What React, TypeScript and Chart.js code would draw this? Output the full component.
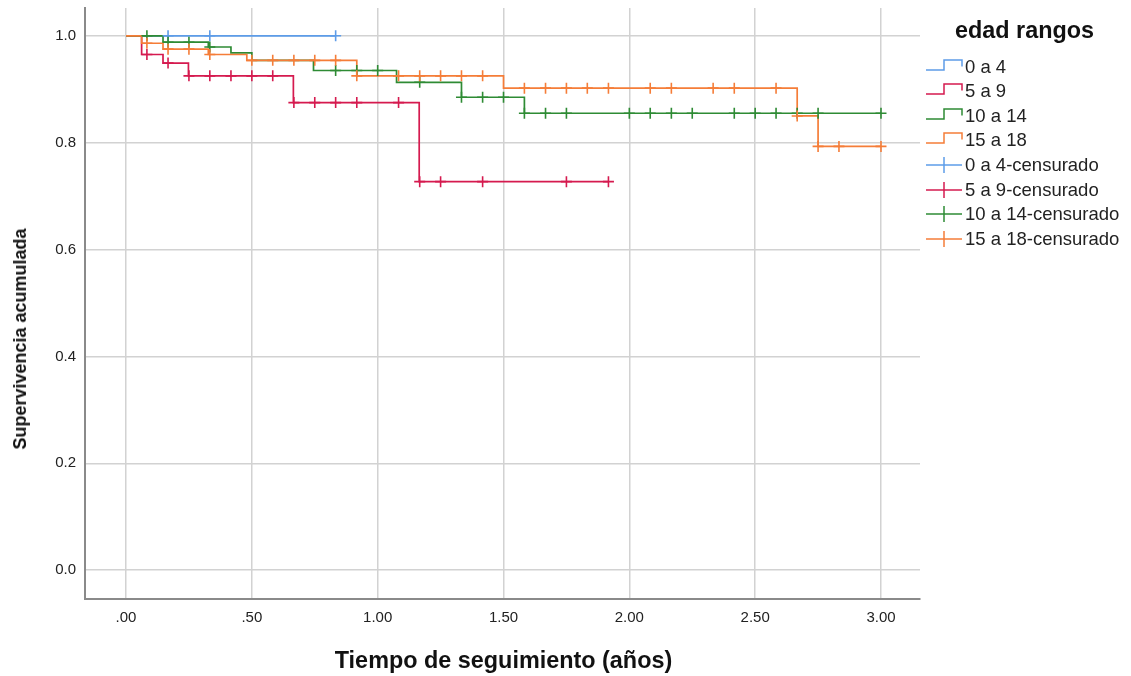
import React, { useEffect, useRef } from 'react';
import { Chart, registerables } from 'chart.js';

Chart.register(...registerables);

// ---- data (time in years, cumulative survival) ----
const groupNames = ['0 a 4', '5 a 9', '10 a 14', '15 a 18'];
const groupColors = ['#5d9ce8', '#d51a4f', '#2e8b34', '#f57d38'];

const xTickValues = [0, 0.5, 1, 1.5, 2, 2.5, 3];
const yTickValues = [0, 0.2, 0.4, 0.6, 0.8, 1.0];

const blueStepX = [0, 0.833];
const blueStepY = [1, 1];
const blueCensX = [0.167, 0.333, 0.833];
const blueCensY = [1, 1, 1];

const redStepX = [0, 0.062, 0.147, 0.248, 0.665, 1.165, 1.917];
const redStepY = [1, 0.965, 0.949, 0.925, 0.875, 0.727, 0.727];
const redCensX = [0.083, 0.167, 0.25, 0.333, 0.417, 0.5, 0.583, 0.667, 0.75, 0.833, 0.917, 1.083, 1.167, 1.25, 1.417, 1.75, 1.917];
const redCensY = [0.965, 0.949, 0.925, 0.925, 0.925, 0.925, 0.925, 0.875, 0.875, 0.875, 0.875, 0.875, 0.727, 0.727, 0.727, 0.727, 0.727];

const greenStepX = [0, 0.147, 0.327, 0.417, 0.5, 0.745, 1.075, 1.333, 1.583, 3.0];
const greenStepY = [1, 0.988, 0.979, 0.968, 0.954, 0.935, 0.913, 0.885, 0.855, 0.855];
const greenCensX = [0.083, 0.167, 0.25, 0.333, 0.833, 0.917, 1.0, 1.167, 1.333, 1.417, 1.5, 1.583, 1.667, 1.75, 2.0, 2.083, 2.167, 2.25, 2.417, 2.5, 2.583, 2.667, 2.75, 3.0];
const greenCensY = [1, 0.988, 0.988, 0.979, 0.935, 0.935, 0.935, 0.913, 0.885, 0.885, 0.885, 0.855, 0.855, 0.855, 0.855, 0.855, 0.855, 0.855, 0.855, 0.855, 0.855, 0.855, 0.855, 0.855];

const orangeStepX = [0, 0.062, 0.147, 0.327, 0.48, 0.917, 1.5, 2.667, 2.75, 3.0];
const orangeStepY = [1, 0.986, 0.975, 0.965, 0.954, 0.925, 0.902, 0.85, 0.793, 0.793];
const orangeCensX = [0.083, 0.167, 0.25, 0.333, 0.5, 0.583, 0.667, 0.75, 0.833, 0.917, 1.083, 1.167, 1.25, 1.333, 1.417, 1.583, 1.667, 1.75, 1.833, 1.917, 2.083, 2.167, 2.333, 2.417, 2.583, 2.667, 2.75, 2.833, 3.0];
const orangeCensY = [0.986, 0.975, 0.975, 0.965, 0.954, 0.954, 0.954, 0.954, 0.954, 0.925, 0.925, 0.925, 0.925, 0.925, 0.925, 0.902, 0.902, 0.902, 0.902, 0.902, 0.902, 0.902, 0.902, 0.902, 0.902, 0.85, 0.793, 0.793, 0.793];

const stepXs = [blueStepX, redStepX, greenStepX, orangeStepX];
const stepYs = [blueStepY, redStepY, greenStepY, orangeStepY];
const censXs = [blueCensX, redCensX, greenCensX, orangeCensX];
const censYs = [blueCensY, redCensY, greenCensY, orangeCensY];

const legendTitle = 'edad rangos';
const xTitle = 'Tiempo de seguimiento (años)';
const yTitle = 'Supervivencia acumulada';

const FONT = "'Liberation Sans', Arial, sans-serif";

const zip = (xs: number[], ys: number[]) => xs.map((x, i) => ({ x, y: ys[i] }));

function StepIcon({ color }: { color: string }) {
  return (
    <svg width="40" height="20" style={{ display: 'block' }}>
      <polyline points="1,13 19,13 19,3 37,3 37,9.5" fill="none" stroke={color} strokeWidth="1.5" />
    </svg>
  );
}
function CrossIcon({ color }: { color: string }) {
  return (
    <svg width="40" height="20" style={{ display: 'block' }}>
      <line x1="1" y1="10" x2="37" y2="10" stroke={color} strokeWidth="1.5" />
      <line x1="19" y1="2" x2="19" y2="18" stroke={color} strokeWidth="1.5" />
    </svg>
  );
}

export default function App() {
  const canvasRef = useRef<HTMLCanvasElement | null>(null);

  useEffect(() => {
    document.body.style.margin = '0';
    const canvas = canvasRef.current;
    if (!canvas) return;

    const datasets: any[] = [];
    const drawOrder = [3, 2, 1, 0]; // orange on top, blue bottom
    for (let g = 0; g < 4; g++) {
      datasets.push({
        type: 'line',
        label: groupNames[g],
        data: zip(stepXs[g], stepYs[g]),
        borderColor: groupColors[g],
        borderWidth: 1.7,
        stepped: true,
        pointRadius: 0,
        fill: false,
        order: 4 + drawOrder[g],
      });
    }
    for (let g = 0; g < 4; g++) {
      datasets.push({
        type: 'line',
        label: groupNames[g] + '-censurado',
        data: zip(censXs[g], censYs[g]),
        showLine: false,
        borderColor: groupColors[g],
        backgroundColor: groupColors[g],
        pointStyle: 'cross',
        pointRadius: 5.5,
        pointBorderWidth: 1.6,
        pointBorderColor: groupColors[g],
        order: drawOrder[g],
      });
    }

    const chart = new Chart(canvas, {
      type: 'line',
      data: { datasets },
      options: {
        responsive: false,
        animation: false,
        devicePixelRatio: 1,
        layout: { padding: { top: 8, right: 211, left: 0, bottom: 0 } },
        plugins: {
          legend: { display: false },
          tooltip: { enabled: false },
        },
        events: [],
        scales: {
          x: {
            type: 'linear',
            min: -0.163,
            max: 3.155,
            afterBuildTicks: (scale: any) => {
              scale.ticks = xTickValues.map((v) => ({ value: v }));
            },
            afterFit: (scale: any) => {
              scale.height = 77;
              scale.paddingLeft = 0;
              scale.paddingRight = 0;
            },
            ticks: {
              callback: (v: any) => Number(v).toFixed(2).replace(/^0/, ''),
              font: { family: FONT, size: 15 },
              color: '#222',
              padding: 10,
              maxRotation: 0,
            },
            grid: { color: '#d2d2d2', lineWidth: 1.5, drawTicks: false },
            border: { color: '#8a8a8a', width: 2 },
          },
          y: {
            type: 'linear',
            min: -0.054,
            max: 1.052,
            afterBuildTicks: (scale: any) => {
              scale.ticks = yTickValues.map((v) => ({ value: v }));
            },
            afterFit: (scale: any) => {
              scale.width = 85;
              scale.paddingTop = 0;
              scale.paddingBottom = 0;
            },
            ticks: {
              callback: (v: any) => Number(v).toFixed(1),
              font: { family: FONT, size: 15 },
              color: '#222',
              padding: 9,
            },
            grid: { color: '#d2d2d2', lineWidth: 1.5, drawTicks: false },
            border: { color: '#8a8a8a', width: 2 },
          },
        },
      } as any,
    });

    return () => chart.destroy();
  }, []);

  const rowTop = 66.5;
  const rowStep = 24.6;
  const legendRows = [
    ...groupNames.map((n, i) => ({ text: n, color: groupColors[i], kind: 'step' })),
    ...groupNames.map((n, i) => ({ text: n + '-censurado', color: groupColors[i], kind: 'cross' })),
  ];

  return (
    <div style={{ position: 'relative', width: 1131, height: 676, background: '#fff', overflow: 'hidden' }}>
      <canvas ref={canvasRef} width={1131} height={676} style={{ display: 'block', width: 1131, height: 676 }} />
      {/* y axis title */}
      <div
        style={{
          position: 'absolute',
          left: 20,
          top: 339,
          transform: 'translate(-50%, -50%) rotate(-90deg)',
          font: `bold 18px ${FONT}`,
          color: '#111',
          whiteSpace: 'nowrap',
          lineHeight: '22px',
        }}
      >
        {yTitle}
      </div>
      {/* x axis title */}
      <div
        style={{
          position: 'absolute',
          left: 503.5,
          top: 660,
          transform: 'translate(-50%, -50%)',
          font: `bold 23.4px ${FONT}`,
          color: '#111',
          whiteSpace: 'nowrap',
          lineHeight: '28px',
        }}
      >
        {xTitle}
      </div>
      {/* legend */}
      <div
        style={{
          position: 'absolute',
          left: 955,
          top: 16,
          font: `bold 23.4px ${FONT}`,
          color: '#111',
          lineHeight: '28px',
          whiteSpace: 'nowrap',
        }}
      >
        {legendTitle}
      </div>
      {legendRows.map((r, i) => (
        <div
          key={i}
          style={{
            position: 'absolute',
            left: 925,
            top: rowTop + i * rowStep - 10,
            height: 20,
            display: 'flex',
            alignItems: 'center',
            whiteSpace: 'nowrap',
          }}
        >
          {r.kind === 'step' ? <StepIcon color={r.color} /> : <CrossIcon color={r.color} />}
          <span style={{ font: `18.5px ${FONT}`, color: '#222', lineHeight: '20px' }}>{r.text}</span>
        </div>
      ))}
    </div>
  );
}
